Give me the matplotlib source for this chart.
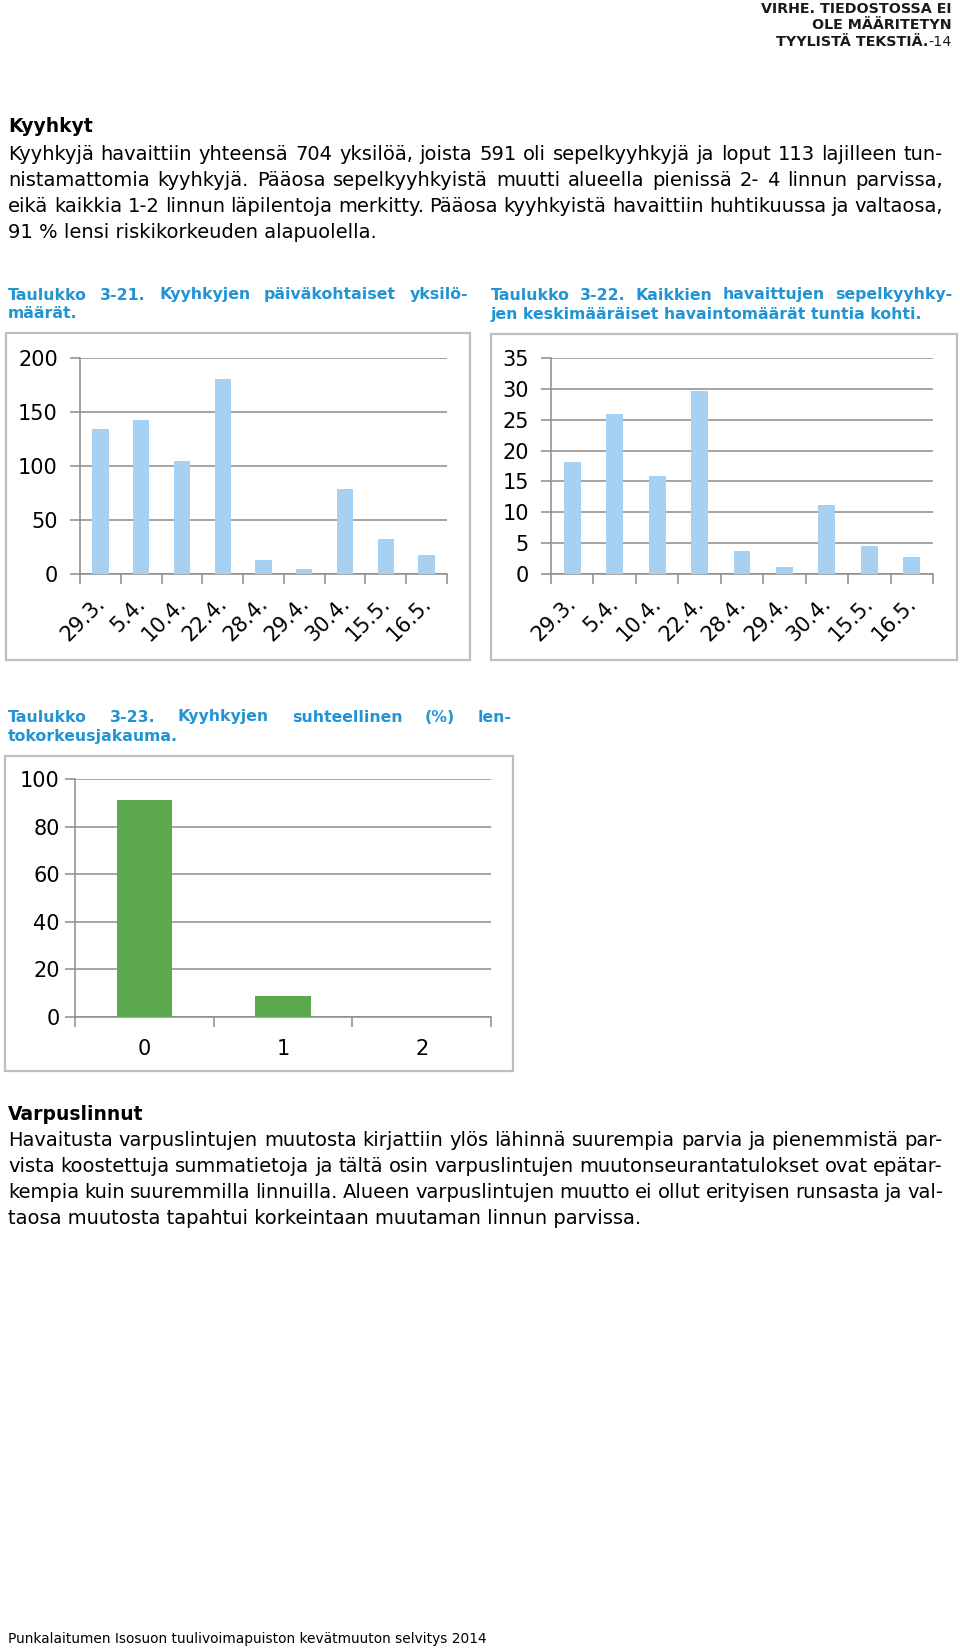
import matplotlib
matplotlib.use('Agg')
import matplotlib.pyplot as plt
from matplotlib.patches import Rectangle
from matplotlib.transforms import ScaledTranslation
import numpy as np

# Data read from the page
dates = ['29.3.', '5.4.', '10.4.', '22.4.', '28.4.', '29.4.', '30.4.', '15.5.', '16.5.']
counts_per_day = [134, 143, 105, 181, 13, 5, 79, 32, 18]
rate_per_hour = [18.1, 26.0, 15.8, 29.7, 3.7, 1.2, 11.2, 4.5, 2.8]
height_classes = ['0', '1', '2']
height_share = [91, 9, 0]

W, H = 960, 1650
BLUE_BAR = '#A7D1F3'
GREEN_BAR = '#5BA84F'
TITLE_BLUE = '#2293D3'
GRID = '#8C8C8C'
FRAME = '#BEBEBE'

plt.rcParams['font.family'] = ['DejaVu Sans']

fig = plt.figure(figsize=(W / 100, H / 100), dpi=100)
renderer = fig.canvas.get_renderer()


def px(x):
    return x / W


def py(y):
    return 1 - y / H


def put_line(y, text, x0, x1=None, justify=False, **kw):
    """Write one line of text, spreading the words to x1 if justify."""
    if not justify:
        return fig.text(px(x0), py(y), text, va='center', ha='left', **kw)
    words = text.split(' ')
    objs = [fig.text(0, py(y), w, va='center', ha='left', **kw) for w in words]
    widths = [o.get_window_extent(renderer).width for o in objs]
    gap = (x1 - x0 - sum(widths)) / (len(words) - 1)
    x = x0
    for o, w in zip(objs, widths):
        o.set_x(px(x))
        x += w + gap


def paragraph(lines, ys, x0, x1, **kw):
    for i, (line, y) in enumerate(zip(lines, ys)):
        put_line(y, line, x0, x1, justify=(i < len(lines) - 1), **kw)


def frame(x0, y0, x1, y1):
    fig.patches.append(Rectangle((px(x0), py(y1)), px(x1 - x0), (y1 - y0) / H,
                                 transform=fig.transFigure, fill=False,
                                 edgecolor=FRAME, lw=1.6))


def bar_axes(x0, y0, x1, y1, labels, values, color, ymax, ystep,
             rot=False, fs=15, ypad=9):
    ax = fig.add_axes([px(x0), py(y1), px(x1 - x0), (y1 - y0) / H])
    pos = np.arange(len(labels))
    ax.bar(pos, values, width=0.4, color=color, zorder=3)
    ax.set_xlim(-0.5, len(labels) - 0.5)
    ax.set_ylim(0, ymax)
    ax.set_yticks(np.arange(0, ymax + ystep / 2, ystep))
    ax.yaxis.grid(True, color=GRID, lw=1.1, zorder=0)
    for s in ['top', 'right']:
        ax.spines[s].set_visible(False)
    for s in ['left', 'bottom']:
        ax.spines[s].set_color(GRID)
        ax.spines[s].set_linewidth(1.1)
    ax.tick_params(axis='y', direction='out', length=7, color=GRID,
                   width=1.1, labelsize=fs, pad=ypad)
    ax.set_xticks(pos)
    ax.set_xticks(np.arange(-0.5, len(labels), 1), minor=True)
    ax.tick_params(axis='x', which='minor', direction='out', length=7,
                   color=GRID, width=1.1)
    if rot:
        ax.set_xticklabels(labels, rotation=45, ha='right',
                           rotation_mode='anchor', fontsize=fs)
        ax.tick_params(axis='x', which='major', length=0, pad=14)
        shift = ScaledTranslation(-6 / 100, 0, fig.dpi_scale_trans)
        for lab in ax.get_xticklabels():
            lab.set_transform(lab.get_transform() + shift)
    else:
        ax.set_xticklabels(labels, fontsize=fs)
        ax.tick_params(axis='x', which='major', length=0, pad=16)
    return ax


# Header
hdr_kw = dict(fontsize=10.3, fontweight='bold', color='#1A1A1A')
fig.text(px(952), py(9), 'VIRHE. TIEDOSTOSSA EI', ha='right', va='center', **hdr_kw)
fig.text(px(952), py(25), 'OLE MÄÄRITETYN', ha='right', va='center', **hdr_kw)
t14 = fig.text(px(952), py(42), '-14', ha='right', va='center', fontsize=10.3,
               color='#1A1A1A')
w14 = t14.get_window_extent(renderer).width
fig.text(px(952 - w14), py(42), 'TYYLISTÄ TEKSTIÄ.', ha='right', va='center', **hdr_kw)

# Section Kyyhkyt
body_kw = dict(fontsize=14, color='black')
fig.text(px(8), py(127), 'Kyyhkyt', ha='left', va='center', fontsize=13.5,
         fontweight='bold')
paragraph([
    'Kyyhkyjä havaittiin yhteensä 704 yksilöä, joista 591 oli sepelkyyhkyjä ja loput 113 lajilleen tun-',
    'nistamattomia kyyhkyjä. Pääosa sepelkyyhkyistä muutti alueella pienissä 2- 4 linnun parvissa,',
    'eikä kaikkia 1-2 linnun läpilentoja merkitty. Pääosa kyyhkyistä havaittiin huhtikuussa ja valtaosa,',
    '91 % lensi riskikorkeuden alapuolella.',
], [155, 181, 207, 233], 8, 943, **body_kw)

# Chart titles
cap_kw = dict(fontsize=11.3, fontweight='bold', color=TITLE_BLUE)
paragraph(['Taulukko 3-21. Kyyhkyjen päiväkohtaiset yksilö-', 'määrät.'],
          [295, 314], 8, 468, **cap_kw)
paragraph(['Taulukko 3-22. Kaikkien havaittujen sepelkyyhky-',
           'jen keskimääräiset havaintomäärät tuntia kohti.'],
          [295, 314], 491, 952, **cap_kw)
paragraph(['Taulukko 3-23. Kyyhkyjen suhteellinen (%) len-', 'tokorkeusjakauma.'],
          [717, 737], 8, 512, **cap_kw)

# Chart 1: daily counts
frame(6, 333, 470, 660)
bar_axes(80, 358, 447, 574, dates, counts_per_day, BLUE_BAR, 200, 50, rot=True)

# Chart 2: per hour rates
frame(491, 334, 957, 660)
bar_axes(551, 358, 933, 574, dates, rate_per_hour, BLUE_BAR, 35, 5, rot=True)

# Chart 3: flight height distribution
frame(5, 756, 513, 1071)
bar_axes(75, 779, 491, 1017, height_classes, height_share, GREEN_BAR, 100, 20,
         ypad=4)

# Section Varpuslinnut
fig.text(px(8), py(1115), 'Varpuslinnut', ha='left', va='center', fontsize=13.5,
         fontweight='bold')
paragraph([
    'Havaitusta varpuslintujen muutosta kirjattiin ylös lähinnä suurempia parvia ja pienemmistä par-',
    'vista koostettuja summatietoja ja tältä osin varpuslintujen muutonseurantatulokset ovat epätar-',
    'kempia kuin suuremmilla linnuilla. Alueen varpuslintujen muutto ei ollut erityisen runsasta ja val-',
    'taosa muutosta tapahtui korkeintaan muutaman linnun parvissa.',
], [1140, 1166, 1192, 1218], 8, 943, **body_kw)

# Footer
fig.text(px(8), py(1639), 'Punkalaitumen Isosuon tuulivoimapuiston kevätmuuton selvitys 2014',
         ha='left', va='center', fontsize=9.9)

fig.savefig('out.png', dpi=100)
